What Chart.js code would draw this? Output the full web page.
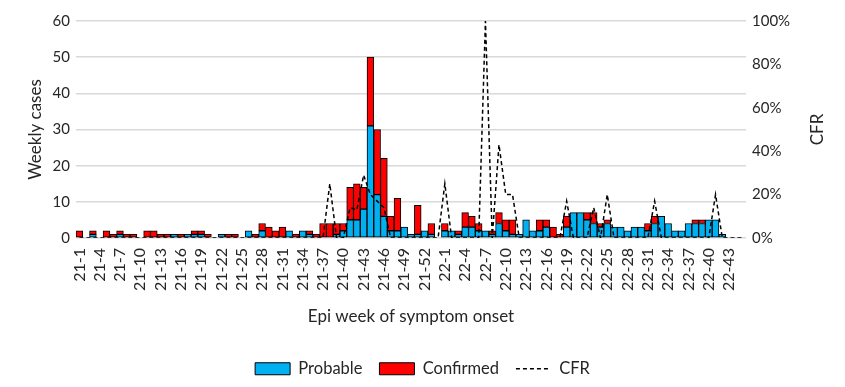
<!DOCTYPE html>
<html>
<head>
<meta charset="utf-8">
<script src="https://cdn.jsdelivr.net/npm/chart.js@4.4.1/dist/chart.umd.min.js"></script>
<style>
    body { margin: 0; background: #ffffff; }
    #wrap { width: 845px; height: 387px; }
</style>
</head>
<body>
<div id="wrap"><canvas id="cfr-chart" width="845" height="387"></canvas></div>
<script>
// epi weeks: 2021 (52 + two unlabelled slots), then 2022-1 .. 2022-45
const weeks2021 = ['21-1', '21-2', '21-3', '21-4', '21-5', '21-6', '21-7', '21-8', '21-9', '21-10',
    '21-11', '21-12', '21-13', '21-14', '21-15', '21-16', '21-17', '21-18', '21-19', '21-20',
    '21-21', '21-22', '21-23', '21-24', '21-25', '21-26', '21-27', '21-28', '21-29', '21-30',
    '21-31', '21-32', '21-33', '21-34', '21-35', '21-36', '21-37', '21-38', '21-39', '21-40',
    '21-41', '21-42', '21-43', '21-44', '21-45', '21-46', '21-47', '21-48', '21-49', '21-50',
    '21-51', '21-52', '21-53', '22-0'];
const weeks2022 = ['22-1', '22-2', '22-3', '22-4', '22-5', '22-6', '22-7', '22-8', '22-9', '22-10',
    '22-11', '22-12', '22-13', '22-14', '22-15', '22-16', '22-17', '22-18', '22-19', '22-20',
    '22-21', '22-22', '22-23', '22-24', '22-25', '22-26', '22-27', '22-28', '22-29', '22-30',
    '22-31', '22-32', '22-33', '22-34', '22-35', '22-36', '22-37', '22-38', '22-39', '22-40',
    '22-41', '22-42', '22-43', '22-44', '22-45'];
const weekLabels = weeks2021.concat(weeks2022);

const probable = [
    0, 0, 1, 0, 0, 0, 1, 0, 0, 0,
    0, 0, 0, 0, 1, 0, 1, 1, 1, 0,
    0, 1, 0, 0, 0, 2, 0, 2, 0, 0,
    0, 2, 0, 2, 1, 0, 0, 0, 1, 2,
    5, 5, 8, 31, 12, 6, 2, 2, 3, 1,
    1, 2, 1, 0, 2, 2, 1, 3, 3, 2,
    2, 1, 4, 2, 1, 1, 5, 2, 2, 3,
    0, 0, 3, 7, 7, 5, 4, 3, 4, 3,
    3, 2, 3, 3, 2, 4, 6, 4, 2, 2,
    4, 4, 4, 5, 5, 1, 0, 0, 0
];

const confirmed = [
    2, 0, 1, 0, 2, 1, 1, 1, 1, 0,
    2, 2, 1, 1, 0, 1, 0, 1, 1, 1,
    0, 0, 1, 1, 0, 0, 1, 2, 3, 2,
    3, 0, 1, 0, 1, 1, 4, 4, 3, 2,
    9, 10, 6, 19, 18, 16, 4, 9, 0, 0,
    8, 0, 3, 0, 2, 0, 1, 4, 3, 2,
    0, 1, 3, 3, 4, 0, 0, 0, 3, 2,
    3, 1, 3, 0, 0, 2, 3, 1, 1, 0,
    0, 0, 0, 0, 2, 2, 0, 0, 0, 0,
    0, 1, 1, 0, 0, 0, 0, 0, 0
];

// case fatality rate, %
const cfr = [
    0, 0, 0, 0, 0, 0, 0, 0, 0, 0,
    0, 0, 0, 0, 0, 0, 0, 0, 0, 0,
    0, 0, 0, 0, 0, 0, 0, 0, 0, 0,
    0, 0, 0, 0, 0, 0, 0, 25, 0, 0,
    14, 13, 29, 20, 17, 14, 0, 0, 0, 0,
    0, 0, 0, 0, 25, 0, 0, 0, 0, 0,
    100, 0, 43, 20, 20, 0, 0, 0, 0, 0,
    0, 0, 17, 0, 0, 0, 14, 0, 20, 0,
    0, 0, 0, 0, 0, 17, 0, 0, 0, 0,
    0, 0, 0, 0, 20, 0, 0, 0, 0
];

const FONT = 'Lato, Carlito, Calibri, sans-serif';
const TEXT = '#262626';
const PLOT_BOTTOM = 238;
const PAD_BOTTOM = 0;

// right axis title reads bottom-to-top like the left one
const rightTitlePlugin = {
    id: 'rightTitle',
    afterDraw(chart) {
        const {ctx, chartArea} = chart;
        ctx.save();
        ctx.translate(818, (chartArea.top + chartArea.bottom) / 2);
        ctx.rotate(-Math.PI / 2);
        ctx.fillStyle = TEXT;
        ctx.font = '17px ' + FONT;
        ctx.textAlign = 'center';
        ctx.textBaseline = 'middle';
        ctx.fillText('CFR', 0, 0);
        ctx.restore();
    }
};

document.addEventListener('DOMContentLoaded', () => {
    renderCfrChart();
});

function renderCfrChart() {
    const ctx = document.getElementById('cfr-chart');

    new Chart(ctx, {
        type: 'bar',
        data: {
            labels: weekLabels,
            datasets: [{
                label: 'Probable',
                data: probable,
                backgroundColor: '#00b0f0',
                borderColor: '#000000',
                borderWidth: 1,
                borderSkipped: false,
                barPercentage: 1,
                categoryPercentage: 1,
                yAxisID: 'y',
                order: 1
            }, {
                label: 'Confirmed',
                data: confirmed,
                backgroundColor: '#ff0000',
                borderColor: '#000000',
                borderWidth: 1,
                borderSkipped: false,
                barPercentage: 1,
                categoryPercentage: 1,
                yAxisID: 'y',
                order: 1
            }, {
                type: 'line',
                label: 'CFR',
                data: cfr,
                borderColor: '#000000',
                backgroundColor: '#000000',
                borderWidth: 1.5,
                borderDash: [4, 3],
                pointRadius: 0,
                tension: 0,
                fill: false,
                yAxisID: 'y1',
                order: 0
            }]
        },
        plugins: [rightTitlePlugin],
        options: {
            responsive: false,
            animation: false,
            devicePixelRatio: 1,
            layout: {
                padding: { top: 21, bottom: PAD_BOTTOM, left: 0, right: 0 }
            },
            plugins: {
                tooltip: { enabled: false },
                legend: {
                    position: 'bottom',
                    labels: {
                        usePointStyle: true,
                        pointStyleWidth: 35,
                        boxHeight: 12,
                        padding: 17,
                        color: TEXT,
                        font: { family: FONT, size: 16.5 },
                        sort: (a, b) => a.datasetIndex - b.datasetIndex,
                        generateLabels: (chart) => {
                            const items = Chart.defaults.plugins.legend.labels.generateLabels(chart);
                            return items.map(item => {
                                if (item.text === 'CFR') {
                                    item.pointStyle = 'line';
                                    item.lineDash = [4, 3];
                                    item.lineWidth = 1.5;
                                    item.strokeStyle = '#000000';
                                } else {
                                    item.pointStyle = 'rect';
                                    item.lineWidth = 1;
                                    item.strokeStyle = '#000000';
                                }
                                return item;
                            });
                        }
                    }
                }
            },
            scales: {
                x: {
                    stacked: true,
                    offset: true,
                    grid: { display: false },
                    border: { display: false },
                    ticks: {
                        autoSkip: false,
                        minRotation: 90,
                        maxRotation: 90,
                        padding: 2,
                        color: TEXT,
                        font: { family: FONT, size: 16 },
                        callback: function (value, index) {
                            return index % 3 === 0 ? this.getLabelForValue(value) : '';
                        }
                    },
                    title: {
                        display: true,
                        text: 'Epi week of symptom onset',
                        color: TEXT,
                        font: { family: FONT, size: 17 },
                        padding: { top: 4, bottom: 17 }
                    },
                    afterFit: (scale) => {
                        const legendH = scale.chart.legend ? scale.chart.legend.height : 0;
                        scale.height = 387 - PLOT_BOTTOM - legendH - PAD_BOTTOM;
                    }
                },
                y: {
                    stacked: true,
                    position: 'left',
                    min: 0,
                    max: 60,
                    ticks: {
                        stepSize: 10,
                        padding: 6,
                        color: TEXT,
                        font: { family: FONT, size: 15 }
                    },
                    grid: {
                        color: '#d9d9d9',
                        lineWidth: 1.5,
                        drawTicks: false
                    },
                    border: { display: false },
                    title: {
                        display: true,
                        text: 'Weekly cases',
                        color: TEXT,
                        font: { family: FONT, size: 17 },
                        padding: { top: 25, bottom: 0 }
                    },
                    afterFit: (scale) => {
                        scale.width = 76;
                    }
                },
                y1: {
                    position: 'right',
                    min: 0,
                    max: 100,
                    ticks: {
                        stepSize: 20,
                        padding: 6,
                        color: TEXT,
                        font: { family: FONT, size: 15 },
                        callback: (value) => value + '%'
                    },
                    grid: { display: false, drawTicks: false },
                    border: { display: false },
                    title: { display: false },
                    afterFit: (scale) => {
                        scale.width = 99;
                    }
                }
            }
        }
    });
}
</script>
</body>
</html>
